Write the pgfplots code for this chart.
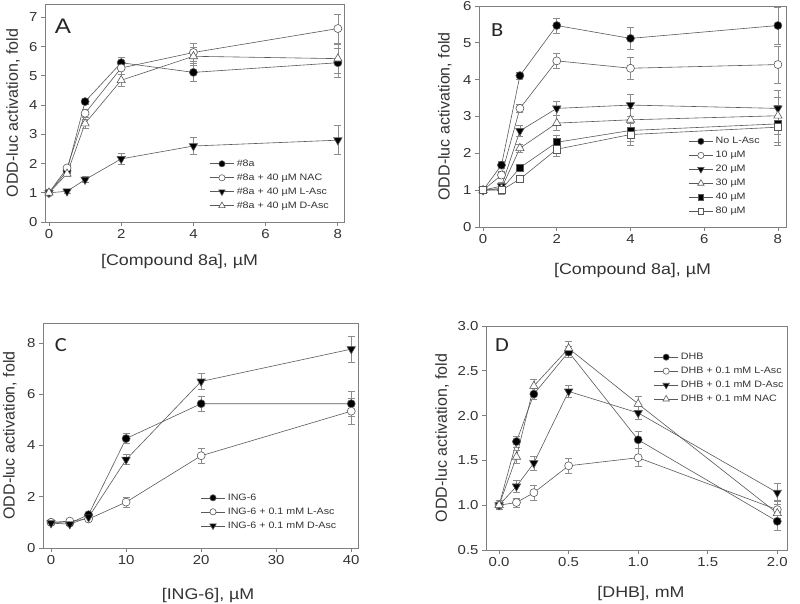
\documentclass[border=0pt]{standalone}
\usepackage{pgfplots}
\pgfplotsset{compat=1.18}
\usepackage{fontspec}
\setmainfont{Liberation Sans}[FakeStretch=1.15]
\newfontfamily\plain{Liberation Sans}
\newfontfamily\calib{Carlito}[FakeStretch=1.12]
\pgfplotsset{
  panel/.style={scale only axis, tick pos=left, tick align=outside,
    axis line style={draw=black!50, line width=0.8pt},
    major tick length=4pt, tick style={black!50, line width=0.8pt},
    ticklabel style={font=\fontsize{13}{15}\selectfont, text=black!80},
    xlabel style={font=\fontsize{15.5}{18}\selectfont, text=black!80},
    ylabel style={font=\plain\fontsize{16}{18}\selectfont, text=black!80},
    /pgf/number format/assume math mode=true,
    legend cell align=left,
    legend style={draw=none, fill=none, font=\fontsize{9.3}{10}\selectfont, anchor=north west,
      inner sep=0pt, row sep=0pt, nodes={inner sep=2.5pt, text height=7pt, text depth=2pt, text=black!80}},
    legend image code/.code={\draw[mark repeat=2,mark phase=2,##1,every mark/.append style={scale=0.78}] plot coordinates {(0pt,0pt)(12pt,0pt)(24pt,0pt)};},
  },
  s/.style={color=black!65, line width=0.6pt, mark options={solid, draw=black, line width=0.5pt},
    error bars/y dir=both, error bars/y explicit,
    error bars/error bar style={black!45, line width=0.6pt},
    error bars/error mark options={black!45, rotate=90, mark size=3.5pt, line width=0.6pt}},
  fc/.style={s, mark=*, mark size=4pt, mark options={fill=black}},
  oc/.style={s, mark=*, mark size=4pt, mark options={fill=white}},
  ftd/.style={s, mark=triangle*, mark size=4.8pt, mark options={fill=black, rotate=180}},
  otu/.style={s, mark=triangle*, mark size=4.8pt, mark options={fill=white}},
  fsq/.style={s, mark=square*, mark size=3.6pt, mark options={fill=black}},
  osq/.style={s, mark=square*, mark size=3.6pt, mark options={fill=white}},
}
\begin{document}
\begin{tikzpicture}
\useasboundingbox (0pt,0pt) rectangle (800pt,604pt);
% Panel A
\begin{axis}[panel, at={(45pt,382pt)}, anchor=south west, width=299pt, height=218pt,
  xmin=-0.11, xmax=8.17, ymin=0, ymax=7.46, xtick={0,2,4,6,8}, ytick={0,1,...,7},
  xlabel={[Compound 8a], µM}, ylabel={ODD-luc activation, fold},
  xlabel style={at={(axis description cs:0.45,-0.183)}, anchor=center},
  ylabel style={at={(axis description cs:-0.107,0.5)}, anchor=center},
  legend style={at={(axis description cs:0.55,0.30)}}]
\addplot[fc] coordinates {(0,1.0) +- (0,0.05) (0.5,1.75) +- (0,0.1) (1,4.12) +- (0,0.1) (2,5.45) +- (0,0.2) (4,5.12) +- (0,0.3) (8,5.45) +- (0,0.5)};
\addplot[oc] coordinates {(0,1.0) +- (0,0.05) (0.5,1.85) +- (0,0.1) (1,3.72) +- (0,0.15) (2,5.27) +- (0,0.2) (4,5.8) +- (0,0.3) (8,6.62) +- (0,0.5)};
\addplot[ftd] coordinates {(0,1.0) +- (0,0.05) (0.5,1.05) +- (0,0.08) (1,1.45) +- (0,0.1) (2,2.16) +- (0,0.2) (4,2.6) +- (0,0.3) (8,2.8) +- (0,0.5)};
\addplot[otu] coordinates {(0,1.0) +- (0,0.05) (0.5,1.65) +- (0,0.1) (1,3.37) +- (0,0.15) (2,4.85) +- (0,0.2) (4,5.67) +- (0,0.3) (8,5.59) +- (0,0.5)};
\legend{\#8a, \#8a + 40 µM NAC, \#8a + 40 µM L-Asc, \#8a + 40 µM D-Asc}
\node[font=\fontsize{21}{22}\selectfont, anchor=center, text=black!85] at (axis description cs:0.06,0.90) {A};
\end{axis}
% Panel B
\begin{axis}[panel, at={(479pt,377pt)}, anchor=south west, width=307pt, height=221pt,
  xmin=-0.11, xmax=8.22, ymin=0, ymax=6, xtick={0,2,4,6,8}, ytick={0,1,...,6},
  xlabel={[Compound 8a], µM}, ylabel={ODD-luc activation, fold},
  xlabel style={at={(axis description cs:0.5,-0.199)}, anchor=center},
  ylabel style={at={(axis description cs:-0.111,0.5)}, anchor=center},
  legend style={at={(axis description cs:0.682,0.42)}}]
\addplot[fc] coordinates {(0,1.0) +- (0,0.05) (0.5,1.68) +- (0,0.1) (1,4.11) +- (0,0.1) (2,5.47) +- (0,0.2) (4,5.12) +- (0,0.3) (8,5.47) +- (0,0.5)};
\addplot[oc] coordinates {(0,1.0) +- (0,0.05) (0.5,1.41) +- (0,0.1) (1,3.22) +- (0,0.1) (2,4.51) +- (0,0.2) (4,4.31) +- (0,0.3) (8,4.41) +- (0,0.5)};
\addplot[ftd] coordinates {(0,1.0) +- (0,0.05) (0.5,1.11) +- (0,0.1) (1,2.61) +- (0,0.15) (2,3.22) +- (0,0.2) (4,3.31) +- (0,0.3) (8,3.22) +- (0,0.5)};
\addplot[otu] coordinates {(0,1.0) +- (0,0.05) (0.5,1.05) +- (0,0.1) (1,2.14) +- (0,0.1) (2,2.82) +- (0,0.2) (4,2.91) +- (0,0.3) (8,3.02) +- (0,0.5)};
\addplot[fsq] coordinates {(0,1.0) +- (0,0.05) (0.5,1.02) +- (0,0.1) (1,1.61) +- (0,0.1) (2,2.3) +- (0,0.2) (4,2.62) +- (0,0.3) (8,2.8) +- (0,0.5)};
\addplot[osq] coordinates {(0,1.0) +- (0,0.05) (0.5,1.0) +- (0,0.1) (1,1.3) +- (0,0.1) (2,2.11) +- (0,0.2) (4,2.51) +- (0,0.3) (8,2.71) +- (0,0.5)};
\legend{No L-Asc, 10 µM, 20 µM, 30 µM, 40 µM, 80 µM}
\node[font=\calib\fontsize{20}{22}\selectfont, anchor=center, text=black!85] at (axis description cs:0.059,0.89) {B};
\end{axis}
% Panel C
\begin{axis}[panel, at={(43pt,56pt)}, anchor=south west, width=315pt, height=225pt,
  xmin=-1.07, xmax=40.9, ymin=0, ymax=8.78, xtick={0,10,...,40}, ytick={0,2,...,8},
  xlabel={[ING-6], µM}, ylabel={ODD-luc activation, fold},
  xlabel style={at={(axis description cs:0.524,-0.209)}, anchor=center},
  ylabel style={at={(axis description cs:-0.105,0.5)}, anchor=center},
  legend style={at={(axis description cs:0.5,0.255)}}]
\addplot[fc] coordinates {(0,1.0) +- (0,0.05) (2.5,0.97) +- (0,0.05) (5,1.3) +- (0,0.08) (10,4.27) +- (0,0.2) (20,5.63) +- (0,0.3) (40,5.63) +- (0,0.5)};
\addplot[oc] coordinates {(0,1.0) +- (0,0.05) (2.5,1.05) +- (0,0.05) (5,1.13) +- (0,0.08) (10,1.79) +- (0,0.2) (20,3.6) +- (0,0.3) (40,5.34) +- (0,0.5)};
\addplot[ftd] coordinates {(0,0.97) +- (0,0.05) (2.5,0.93) +- (0,0.05) (5,1.2) +- (0,0.08) (10,3.45) +- (0,0.2) (20,6.5) +- (0,0.3) (40,7.76) +- (0,0.5)};
\legend{ING-6, ING-6 + 0.1 mM L-Asc, ING-6 + 0.1 mM D-Asc}
\node[font=\calib\fontsize{20}{22}\selectfont, anchor=center, text=black!85] at (axis description cs:0.057,0.90) {C};
\end{axis}
% Panel D
\begin{axis}[panel, at={(486pt,54pt)}, anchor=south west, width=301pt, height=224pt,
  xmin=-0.094, xmax=2.07, ymin=0.5, ymax=3.0, xtick={0,0.5,...,2}, ytick={0.5,1.0,...,3.0},
  xticklabel style={/pgf/number format/.cd, fixed, fixed zerofill, precision=1},
  yticklabel style={/pgf/number format/.cd, fixed, fixed zerofill, precision=1},
  xlabel={[DHB], mM}, ylabel={ODD-luc activation, fold},
  xlabel style={at={(axis description cs:0.515,-0.192)}, anchor=center},
  ylabel style={at={(axis description cs:-0.146,0.5)}, anchor=center},
  legend style={at={(axis description cs:0.557,0.893)}}]
\addplot[fc] coordinates {(0,1.0) +- (0,0.05) (0.125,1.71) +- (0,0.06) (0.25,2.24) +- (0,0.06) (0.5,2.71) +- (0,0.06) (1,1.73) +- (0,0.09) (2,0.82) +- (0,0.1)};
\addplot[oc] coordinates {(0,1.0) +- (0,0.05) (0.125,1.03) +- (0,0.05) (0.25,1.14) +- (0,0.08) (0.5,1.44) +- (0,0.08) (1,1.53) +- (0,0.1) (2,0.95) +- (0,0.1)};
\addplot[ftd] coordinates {(0,1.0) +- (0,0.05) (0.125,1.21) +- (0,0.07) (0.25,1.47) +- (0,0.08) (0.5,2.27) +- (0,0.07) (1,2.03) +- (0,0.07) (2,1.14) +- (0,0.1)};
\addplot[otu] coordinates {(0,1.0) +- (0,0.05) (0.125,1.54) +- (0,0.07) (0.25,2.33) +- (0,0.07) (0.5,2.75) +- (0,0.08) (1,2.13) +- (0,0.08) (2,0.91) +- (0,0.1)};
\legend{DHB, DHB + 0.1 mM L-Asc, DHB + 0.1 mM D-Asc, DHB + 0.1 mM NAC}
\node[font=\calib\fontsize{20}{22}\selectfont, anchor=center, text=black!85] at (axis description cs:0.053,0.915) {D};
\end{axis}
\end{tikzpicture}
\end{document}
